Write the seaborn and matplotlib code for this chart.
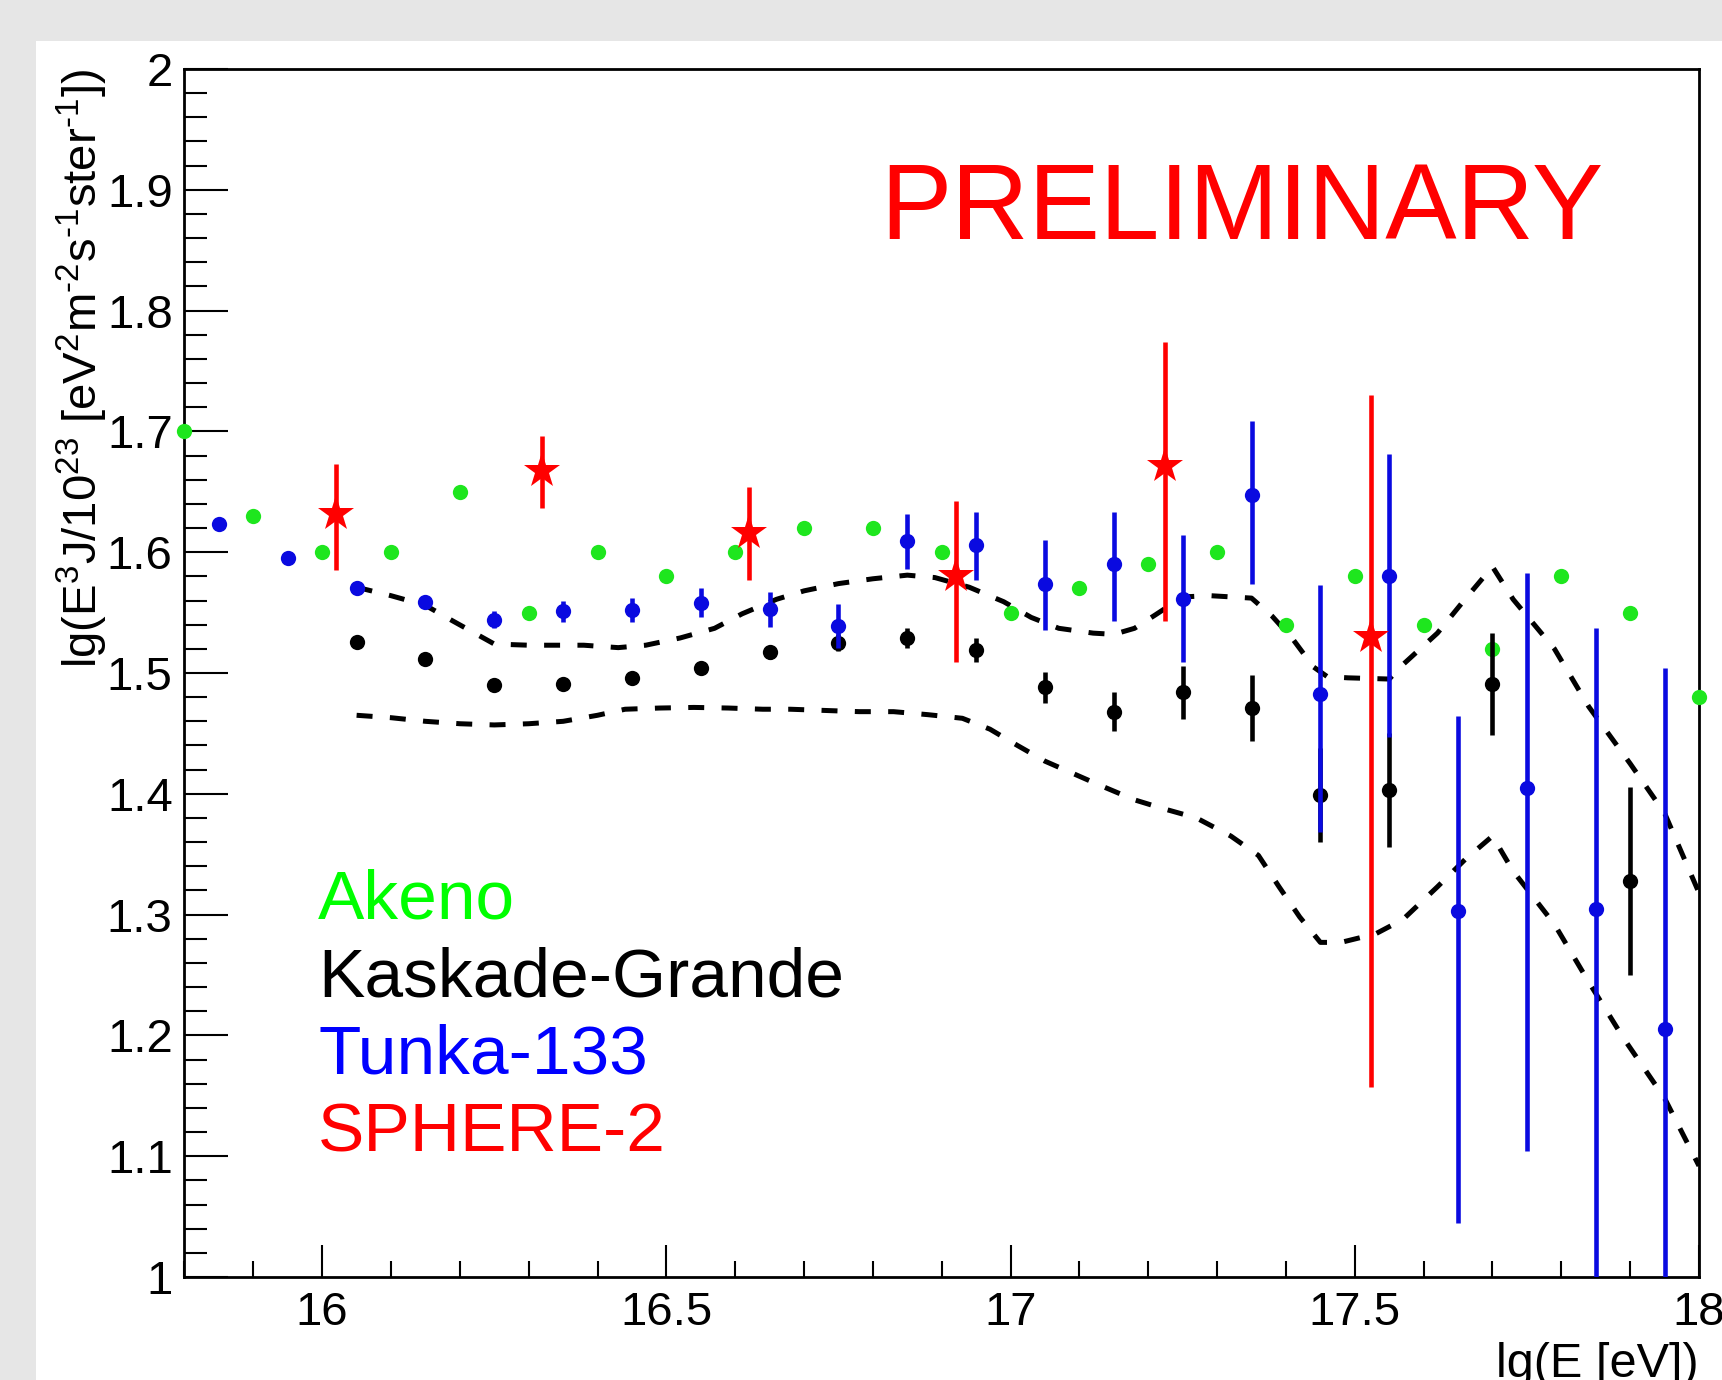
# ======================
# Cosmic ray spectrum comparison (Akeno / Kaskade-Grande / Tunka-133 / SPHERE-2)
# ======================

import numpy as np
import pandas as pd
import seaborn as sns
import matplotlib.pyplot as plt
from matplotlib.ticker import MultipleLocator, FormatStrFormatter

# ======================
# Data
# ======================

akeno_x = [15.8, 15.9, 16.0, 16.1, 16.2, 16.3, 16.4, 16.5, 16.6, 16.7, 16.8, 16.9,
           17.0, 17.1, 17.2, 17.3, 17.4, 17.5, 17.6, 17.7, 17.8, 17.9, 18.0]
akeno_y = [1.70, 1.63, 1.60, 1.60, 1.65, 1.55, 1.60, 1.58, 1.60, 1.62, 1.62, 1.60,
           1.55, 1.57, 1.59, 1.60, 1.54, 1.58, 1.54, 1.52, 1.58, 1.55, 1.48]

tunka_x = [15.85, 15.95, 16.05, 16.15, 16.25, 16.35, 16.45, 16.55, 16.65, 16.75, 16.85,
           16.95, 17.05, 17.15, 17.25, 17.35, 17.45, 17.55, 17.65, 17.75, 17.85, 17.95]
tunka_y = [1.623, 1.595, 1.570, 1.559, 1.544, 1.551, 1.552, 1.558, 1.553, 1.539, 1.609,
           1.606, 1.574, 1.590, 1.561, 1.647, 1.483, 1.580, 1.303, 1.405, 1.305, 1.205]
tunka_lo = [0.0, 0.0, 0.004, 0.005, 0.007, 0.009, 0.010, 0.012, 0.015, 0.018, 0.023,
            0.029, 0.038, 0.047, 0.052, 0.073, 0.115, 0.133, 0.258, 0.301, 0.32, 0.22]
tunka_hi = [0.0, 0.0, 0.004, 0.005, 0.007, 0.009, 0.010, 0.012, 0.014, 0.018, 0.023,
            0.027, 0.036, 0.043, 0.053, 0.062, 0.090, 0.101, 0.161, 0.178, 0.232, 0.299]

kg_x = [16.05, 16.15, 16.25, 16.35, 16.45, 16.55, 16.65, 16.75, 16.85, 16.95,
        17.05, 17.15, 17.25, 17.35, 17.45, 17.55, 17.70, 17.90]
kg_y = [1.526, 1.512, 1.490, 1.491, 1.496, 1.504, 1.517, 1.525, 1.529, 1.519,
        1.488, 1.468, 1.484, 1.471, 1.399, 1.403, 1.491, 1.328]
kg_err = [0.0, 0.0, 0.0, 0.0, 0.003, 0.003, 0.005, 0.007, 0.008, 0.010,
          0.013, 0.016, 0.022, 0.027, 0.039, 0.047, 0.042, 0.078]

sphere_x = [16.02, 16.32, 16.62, 16.92, 17.225, 17.523]
sphere_y = [1.632, 1.667, 1.616, 1.580, 1.671, 1.530]
sphere_lo = [0.047, 0.030, 0.039, 0.071, 0.128, 0.373]
sphere_hi = [0.041, 0.029, 0.038, 0.062, 0.103, 0.200]

upper_x = [16.05, 16.10, 16.15, 16.19, 16.25, 16.30, 16.38, 16.43, 16.47, 16.52, 16.57,
           16.61, 16.66, 16.70, 16.75, 16.80, 16.85, 16.89, 16.94, 16.99, 17.03, 17.07,
           17.12, 17.15, 17.18, 17.21, 17.25, 17.29, 17.35, 17.38, 17.41, 17.44, 17.46,
           17.49, 17.55, 17.57, 17.62, 17.66, 17.70, 17.73, 17.79, 17.84, 17.90, 17.95, 18.00]
upper_y = [1.571, 1.564, 1.556, 1.543, 1.524, 1.523, 1.523, 1.521, 1.523, 1.529, 1.537,
           1.549, 1.561, 1.568, 1.574, 1.578, 1.581, 1.579, 1.571, 1.559, 1.546, 1.537,
           1.533, 1.532, 1.537, 1.548, 1.563, 1.564, 1.562, 1.547, 1.528, 1.505, 1.497,
           1.496, 1.495, 1.507, 1.533, 1.561, 1.588, 1.561, 1.520, 1.472, 1.425, 1.384, 1.318]

lower_x = [16.05, 16.10, 16.15, 16.20, 16.25, 16.30, 16.35, 16.40, 16.44, 16.49, 16.54,
           16.59, 16.64, 16.68, 16.73, 16.78, 16.83, 16.88, 16.93, 16.97, 17.01, 17.05,
           17.13, 17.18, 17.22, 17.27, 17.32, 17.36, 17.39, 17.42, 17.45, 17.48, 17.53,
           17.57, 17.62, 17.66, 17.70, 17.73, 17.79, 17.84, 17.89, 17.95, 18.00]
lower_y = [1.465, 1.463, 1.460, 1.458, 1.457, 1.458, 1.460, 1.465, 1.470, 1.471, 1.4715,
           1.471, 1.470, 1.470, 1.469, 1.468, 1.468, 1.4655, 1.4625, 1.4535, 1.440, 1.427,
           1.407, 1.395, 1.388, 1.380, 1.365, 1.349, 1.323, 1.298, 1.277, 1.277, 1.284,
           1.296, 1.323, 1.3455, 1.365, 1.336, 1.292, 1.244, 1.198, 1.148, 1.092]

legend_names = ["Akeno", "Kaskade-Grande", "Tunka-133", "SPHERE-2"]
legend_y = [1.2965, 1.232, 1.1686, 1.1037]

GREEN = "#00ff00"
GREEN_DOT = "#1ee61e"
BLUE = "#0000ff"
BLUE_DOT = "#0a0ae0"
RED = "#ff0000"
BLACK = "#000000"

# ======================
# Style
# ======================

sns.set_theme(style="ticks")
plt.rcParams['font.family'] = ['Liberation Sans', 'DejaVu Sans']
plt.rcParams['mathtext.fontset'] = 'custom'
plt.rcParams['mathtext.rm'] = 'Liberation Sans'
plt.rcParams['mathtext.it'] = 'Liberation Sans:italic'
plt.rcParams['mathtext.bf'] = 'Liberation Sans:bold'
plt.rcParams['lines.scale_dashes'] = False

fig = plt.figure(figsize=(17.22, 13.8), dpi=100, facecolor="#e6e6e6")
fig.add_artist(plt.Rectangle((36 / 1722, 0), 1, 1 - 41 / 1380,
                             transform=fig.transFigure, facecolor="white",
                             edgecolor="none", zorder=-1))
ax = fig.add_axes([0.10714, 0.07464, 0.8795, 0.87536])
ax.set_facecolor("white")

# ======================
# Systematic band (dashed)
# ======================

for cx, cy in [(upper_x, upper_y), (lower_x, lower_y)]:
    sns.lineplot(x=cx, y=cy, ax=ax, color=BLACK, lw=3.6,
                 linestyle=(0, (11.5, 12.5)), sort=False, estimator=None)

# ======================
# Data points
# ======================

sns.scatterplot(x=akeno_x, y=akeno_y, ax=ax, color=GREEN_DOT, s=121,
                linewidth=0, clip_on=False, zorder=4)

ax.errorbar(kg_x, kg_y, yerr=kg_err, fmt="o", color=BLACK, ms=11, mew=0,
            elinewidth=3.3, capsize=2.5, capthick=3.3, zorder=5)

ax.errorbar(tunka_x, tunka_y, yerr=[tunka_lo, tunka_hi], fmt="o", color=BLUE_DOT,
            ms=11, mew=0, elinewidth=3.3, capsize=2.5, capthick=3.3, zorder=6)

ax.errorbar(sphere_x, sphere_y, yerr=[sphere_lo, sphere_hi], fmt="*", color=RED,
            ms=27, mew=0, elinewidth=3.3, capsize=2.5, capthick=3.3, zorder=7)

# ======================
# Texts
# ======================

ax.text(17.336, 1.859, "PRELIMINARY", color=RED, fontsize=77,
        ha="center", va="baseline")

for name, yy, col in zip(legend_names, legend_y, [GREEN, BLACK, BLUE, RED]):
    ax.text(15.994, yy, name, color=col, fontsize=50, ha="left", va="baseline")

# ======================
# Axes
# ======================

ax.set_xlim(15.8, 18.0)
ax.set_ylim(1.0, 2.0)

ax.xaxis.set_major_locator(MultipleLocator(0.5))
ax.xaxis.set_minor_locator(MultipleLocator(0.1))
ax.yaxis.set_major_locator(MultipleLocator(0.1))
ax.yaxis.set_minor_locator(MultipleLocator(0.02))
ax.xaxis.set_major_formatter(FormatStrFormatter("%g"))
ax.yaxis.set_major_formatter(FormatStrFormatter("%g"))

ax.tick_params(axis="x", which="major", direction="in", length=23, width=1.5,
               labelsize=34, pad=10, color=BLACK, labelcolor=BLACK)
ax.tick_params(axis="x", which="minor", direction="in", length=11.5, width=1.5,
               color=BLACK)
ax.tick_params(axis="y", which="major", direction="in", length=31.5, width=1.5,
               labelsize=34, pad=8.5, color=BLACK, labelcolor=BLACK)
ax.tick_params(axis="y", which="minor", direction="in", length=16.5, width=1.5,
               color=BLACK)

for sp in ax.spines.values():
    sp.set_linewidth(2)
    sp.set_color(BLACK)

ax.set_xlabel("lg(E [eV])", fontsize=35, loc="right", color=BLACK)
ax.xaxis.set_label_coords(1.0, -0.0825)
ax.xaxis.label.set_va("baseline")

ax.set_ylabel(r"lg(E$^{3}$J/10$^{23}$ [eV$^{2}$m$^{\text{-2}}$s$^{\text{-1}}$ster$^{\text{-1}}$])",
              fontsize=34, loc="top", color=BLACK)
ax.yaxis.set_label_coords(-0.049, 1.0)

fig.savefig("out.png", dpi=100, facecolor=fig.get_facecolor())
plt.close()
